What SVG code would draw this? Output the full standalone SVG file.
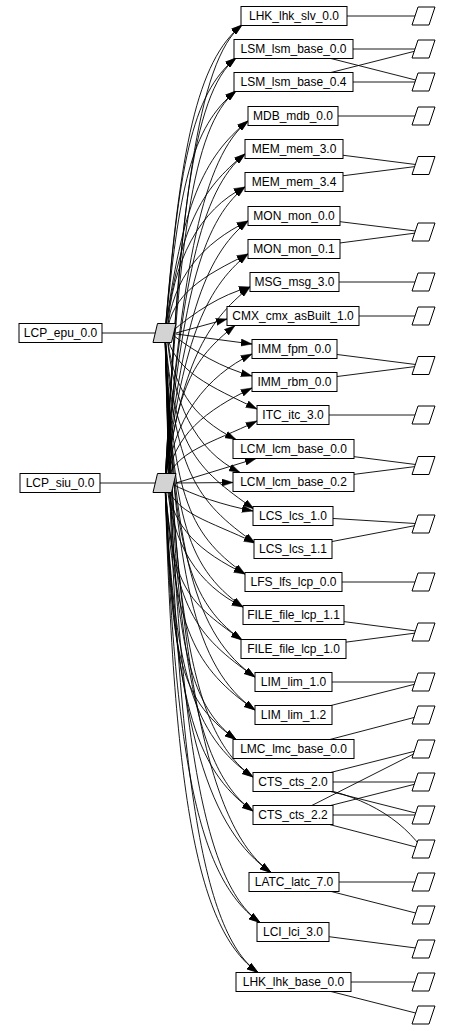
<svg xmlns="http://www.w3.org/2000/svg" xmlns:xlink="http://www.w3.org/1999/xlink" width="452" height="1031" viewBox="0 0 452 1031">
<style>
.b{fill:#fff;stroke:#000;stroke-width:1}
.p{fill:#fff;stroke:#000;stroke-width:1}
.g{fill:#d3d3d3;stroke:#000;stroke-width:1}
.e{fill:none;stroke:#000;stroke-width:0.9;marker-end:url(#ah)}
.l{fill:none;stroke:#000;stroke-width:0.9}
text{font-family:"Liberation Sans",Arial,Helvetica,sans-serif;font-size:12px;text-anchor:middle;fill:#000}
</style>
<defs>
<marker id="ah" markerUnits="userSpaceOnUse" markerWidth="11" markerHeight="8" viewBox="0 0 11 8" refX="11" refY="4" orient="auto"><path d="M0,0.5 L11,4 L0,7.5 z" fill="#000" stroke="#000" stroke-width="0.5"/></marker>
<polygon id="pp" points="-5.5,-9 11.5,-9 5.5,9 -11.5,9"/>
<polygon id="gp" points="-7,-9.5 11.5,-9.5 7,9.5 -11.5,9.5"/>
</defs>
<g id="connectors">
<path class="l" d="M102,333 L165,333"/>
<path class="l" d="M100,483 L165,483"/>
<path class="e" d="M165,333 C180,148 197,61 242,25"/>
<path class="e" d="M165,333 C179,168 191,94 236,58"/>
<path class="e" d="M165,333 C179,188 191,127 236,91"/>
<path class="e" d="M165,333 C182,206 203,157 248,121"/>
<path class="e" d="M165,333 C181,226 200,190 245,154"/>
<path class="e" d="M167,333 C172,260 200,209 245,187"/>
<path class="e" d="M167,333 C172,277 203,243 248,221"/>
<path class="e" d="M167,333 C172,294 203,276 248,254"/>
<path class="e" d="M170,333 C195,312 220,295 250,287"/>
<path class="e" d="M176,333 L227,319"/>
<path class="e" d="M176,334 L252,344"/>
<path class="e" d="M170,333 C195,352 222,368 252,376"/>
<path class="e" d="M167,333 C172,371 212,387 257,409"/>
<path class="e" d="M167,333 C172,386 191,417 236,439.5"/>
<path class="e" d="M167,333 C172,403 195,450 240,472.5"/>
<path class="e" d="M165,333 C174,447 194,467 254,509"/>
<path class="e" d="M165,333 C174,470 195,501 255,543"/>
<path class="e" d="M165,333 C173,490 185,532 245,574"/>
<path class="e" d="M165,333 C173,511 183,565 243,607"/>
<path class="e" d="M165,333 C173,533 182,598 242,640"/>
<path class="e" d="M165,333 C174,557 195,635 255,677"/>
<path class="e" d="M165,333 C174,578 195,668 255,710"/>
<path class="e" d="M165,333 C172,597 176,697 236,739.5"/>
<path class="e" d="M165,333 C174,622 193,735 253,777"/>
<path class="e" d="M165,333 C174,644 193,769 253,811"/>
<path class="e" d="M165,333 C176,684 211,830 271,872.5"/>
<path class="e" d="M165,333 C175,716 200,880 260,922.5"/>
<path class="e" d="M165,333 C174,749 198,930 258,972.5"/>
<path class="e" d="M165,483 C180,208 197,61 242,25"/>
<path class="e" d="M165,483 C179,228 191,94 236,58"/>
<path class="e" d="M165,483 C179,248 191,127 236,91"/>
<path class="e" d="M165,483 C182,266 203,157 248,121"/>
<path class="e" d="M165,483 C181,286 200,190 245,154"/>
<path class="e" d="M165,483 C181,305 200,223 245,187"/>
<path class="e" d="M165,483 C182,326 203,257 248,221"/>
<path class="e" d="M165,483 C182,346 203,290 248,254"/>
<path class="e" d="M165,483 C182,365 205,323 250,287"/>
<path class="e" d="M165,483 C179,388 190,361 235,325.5"/>
<path class="e" d="M167,483 C172,418 207,376 252,354"/>
<path class="e" d="M167,483 C172,435 207,410 252,388"/>
<path class="e" d="M167,483 C172,452 212,443 257,421"/>
<path class="e" d="M176,483 L256,458.5"/>
<path class="e" d="M176,483 L233,482.5"/>
<path class="e" d="M170,483 C195,496 223,505 253,511"/>
<path class="e" d="M167,483 C172,513 210,521 255,543"/>
<path class="e" d="M167,483 C172,528 200,552 245,574"/>
<path class="e" d="M167,483 C172,545 198,585 243,607"/>
<path class="e" d="M165,483 C173,585 182,598 242,640"/>
<path class="e" d="M165,483 C174,609 195,635 255,677"/>
<path class="e" d="M165,483 C174,631 195,668 255,710"/>
<path class="e" d="M165,483 C172,650 176,697 236,739.5"/>
<path class="e" d="M165,483 C174,674 193,735 253,777"/>
<path class="e" d="M165,483 C174,696 193,769 253,811"/>
<path class="e" d="M165,483 C176,736 211,830 271,872.5"/>
<path class="e" d="M165,483 C175,769 200,880 260,922.5"/>
<path class="e" d="M165,483 C174,801 198,930 258,972.5"/>
<path class="l" d="M294,16 L423.5,16"/>
<path class="l" d="M293.5,49 L423.5,49 M293.5,49 L423.5,82"/>
<path class="l" d="M293.5,82 L423.5,49 M293.5,82 L423.5,82"/>
<path class="l" d="M293,116 L423.5,116"/>
<path class="l" d="M294,149 L423.5,165.5 M294,182 L423.5,165.5"/>
<path class="l" d="M294,216 L423.5,232 M294,249 L423.5,232"/>
<path class="l" d="M294,282 L423.5,282"/>
<path class="l" d="M293,316 L423.5,316"/>
<path class="l" d="M294,349 L423.5,365.5 M294,382 L423.5,365.5"/>
<path class="l" d="M293,415 L423.5,415"/>
<path class="l" d="M294,449 L423.5,465.5 M294,482 L423.5,465.5"/>
<path class="l" d="M293,516 L423.5,524 M293,549 L423.5,524"/>
<path class="l" d="M293.5,582 L423.5,582"/>
<path class="l" d="M293.5,615 L423.5,632 M293.5,649 L423.5,632"/>
<path class="l" d="M293.5,682 L423.5,682"/>
<path class="l" d="M293.5,715 L423.5,682"/>
<path class="l" d="M293.5,749 L423.5,715"/>
<path class="l" d="M293,782 L423.5,749 M293,782 L423.5,782 M293,782 L423.5,815"/>
<path class="l" d="M293,784 C350,790 395,812 421,847"/>
<path class="l" d="M293,815 L423.5,749 M293,815 L423.5,782 M293,815 L423.5,815 M293,815 L423.5,849"/>
<path class="l" d="M294,882 L423.5,882 M294,882 L423.5,915"/>
<path class="l" d="M293,932 L423.5,949"/>
<path class="l" d="M293.5,982 L423.5,982 M293.5,982 L423.5,1015"/>
</g>
<g id="LCP_epu_0.0"><rect class="b" x="19" y="323.5" width="83" height="19"/><text x="60.5" y="337">LCP_epu_0.0</text></g>
<g id="LCP_siu_0.0"><rect class="b" x="20" y="473.5" width="80" height="19"/><text x="60" y="487">LCP_siu_0.0</text></g>
<g id="epu_pkg"><use xlink:href="#gp" class="g" x="164.5" y="333"/></g>
<g id="siu_pkg"><use xlink:href="#gp" class="g" x="164.5" y="483"/></g>
<g id="LHK_lhk_slv_0.0"><rect class="b" x="241" y="6.5" width="106" height="19"/><text x="294" y="20">LHK_lhk_slv_0.0</text></g>
<g id="LSM_lsm_base_0.0"><rect class="b" x="234" y="39.5" width="119" height="19"/><text x="293.5" y="53">LSM_lsm_base_0.0</text></g>
<g id="LSM_lsm_base_0.4"><rect class="b" x="234" y="72.5" width="119" height="19"/><text x="293.5" y="86">LSM_lsm_base_0.4</text></g>
<g id="MDB_mdb_0.0"><rect class="b" x="248" y="106.5" width="90" height="19"/><text x="293" y="120">MDB_mdb_0.0</text></g>
<g id="MEM_mem_3.0"><rect class="b" x="245" y="139.5" width="98" height="19"/><text x="294" y="153">MEM_mem_3.0</text></g>
<g id="MEM_mem_3.4"><rect class="b" x="245" y="172.5" width="98" height="19"/><text x="294" y="186">MEM_mem_3.4</text></g>
<g id="MON_mon_0.0"><rect class="b" x="248" y="206.5" width="92" height="19"/><text x="294" y="220">MON_mon_0.0</text></g>
<g id="MON_mon_0.1"><rect class="b" x="248" y="239.5" width="92" height="19"/><text x="294" y="253">MON_mon_0.1</text></g>
<g id="MSG_msg_3.0"><rect class="b" x="250" y="272.5" width="89" height="19"/><text x="294.5" y="286">MSG_msg_3.0</text></g>
<g id="CMX_cmx_asBuilt_1.0"><rect class="b" x="227" y="306.5" width="132" height="19"/><text x="293" y="320">CMX_cmx_asBuilt_1.0</text></g>
<g id="IMM_fpm_0.0"><rect class="b" x="252" y="339.5" width="85" height="19"/><text x="294.5" y="353">IMM_fpm_0.0</text></g>
<g id="IMM_rbm_0.0"><rect class="b" x="252" y="372.5" width="85" height="19"/><text x="294.5" y="386">IMM_rbm_0.0</text></g>
<g id="ITC_itc_3.0"><rect class="b" x="257" y="405.5" width="72" height="19"/><text x="293" y="419">ITC_itc_3.0</text></g>
<g id="LCM_lcm_base_0.0"><rect class="b" x="233" y="439.5" width="121" height="19"/><text x="293.5" y="453">LCM_lcm_base_0.0</text></g>
<g id="LCM_lcm_base_0.2"><rect class="b" x="233" y="472.5" width="121" height="19"/><text x="293.5" y="486">LCM_lcm_base_0.2</text></g>
<g id="LCS_lcs_1.0"><rect class="b" x="253" y="506.5" width="80" height="19"/><text x="293" y="520">LCS_lcs_1.0</text></g>
<g id="LCS_lcs_1.1"><rect class="b" x="254" y="539.5" width="78" height="19"/><text x="293" y="553">LCS_lcs_1.1</text></g>
<g id="LFS_lfs_lcp_0.0"><rect class="b" x="245" y="572.5" width="97" height="19"/><text x="293.5" y="586">LFS_lfs_lcp_0.0</text></g>
<g id="FILE_file_lcp_1.1"><rect class="b" x="243" y="605.5" width="101" height="19"/><text x="293.5" y="619">FILE_file_lcp_1.1</text></g>
<g id="FILE_file_lcp_1.0"><rect class="b" x="241" y="639.5" width="105" height="19"/><text x="293.5" y="653">FILE_file_lcp_1.0</text></g>
<g id="LIM_lim_1.0"><rect class="b" x="255" y="672.5" width="77" height="19"/><text x="293.5" y="686">LIM_lim_1.0</text></g>
<g id="LIM_lim_1.2"><rect class="b" x="255" y="705.5" width="77" height="19"/><text x="293.5" y="719">LIM_lim_1.2</text></g>
<g id="LMC_lmc_base_0.0"><rect class="b" x="233" y="739.5" width="121" height="19"/><text x="293.5" y="753">LMC_lmc_base_0.0</text></g>
<g id="CTS_cts_2.0"><rect class="b" x="253" y="772.5" width="80" height="19"/><text x="293" y="786">CTS_cts_2.0</text></g>
<g id="CTS_cts_2.2"><rect class="b" x="253" y="805.5" width="80" height="19"/><text x="293" y="819">CTS_cts_2.2</text></g>
<g id="LATC_latc_7.0"><rect class="b" x="249" y="872.5" width="90" height="19"/><text x="294" y="886">LATC_latc_7.0</text></g>
<g id="LCI_lci_3.0"><rect class="b" x="257" y="922.5" width="72" height="19"/><text x="293" y="936">LCI_lci_3.0</text></g>
<g id="LHK_lhk_base_0.0"><rect class="b" x="236" y="972.5" width="115" height="19"/><text x="293.5" y="986">LHK_lhk_base_0.0</text></g>
<g id="pkg_r01"><use xlink:href="#pp" class="p" x="423.5" y="16"/></g>
<g id="pkg_r02"><use xlink:href="#pp" class="p" x="423.5" y="49"/></g>
<g id="pkg_r03"><use xlink:href="#pp" class="p" x="423.5" y="82"/></g>
<g id="pkg_r04"><use xlink:href="#pp" class="p" x="423.5" y="116"/></g>
<g id="pkg_r05"><use xlink:href="#pp" class="p" x="423.5" y="165.5"/></g>
<g id="pkg_r06"><use xlink:href="#pp" class="p" x="423.5" y="232"/></g>
<g id="pkg_r07"><use xlink:href="#pp" class="p" x="423.5" y="282"/></g>
<g id="pkg_r08"><use xlink:href="#pp" class="p" x="423.5" y="316"/></g>
<g id="pkg_r09"><use xlink:href="#pp" class="p" x="423.5" y="365.5"/></g>
<g id="pkg_r10"><use xlink:href="#pp" class="p" x="423.5" y="415"/></g>
<g id="pkg_r11"><use xlink:href="#pp" class="p" x="423.5" y="465.5"/></g>
<g id="pkg_r12"><use xlink:href="#pp" class="p" x="423.5" y="524"/></g>
<g id="pkg_r13"><use xlink:href="#pp" class="p" x="423.5" y="582"/></g>
<g id="pkg_r14"><use xlink:href="#pp" class="p" x="423.5" y="632"/></g>
<g id="pkg_r15"><use xlink:href="#pp" class="p" x="423.5" y="682"/></g>
<g id="pkg_r16"><use xlink:href="#pp" class="p" x="423.5" y="715"/></g>
<g id="pkg_r17"><use xlink:href="#pp" class="p" x="423.5" y="749"/></g>
<g id="pkg_r18"><use xlink:href="#pp" class="p" x="423.5" y="782"/></g>
<g id="pkg_r19"><use xlink:href="#pp" class="p" x="423.5" y="815"/></g>
<g id="pkg_r20"><use xlink:href="#pp" class="p" x="423.5" y="849"/></g>
<g id="pkg_r21"><use xlink:href="#pp" class="p" x="423.5" y="882"/></g>
<g id="pkg_r22"><use xlink:href="#pp" class="p" x="423.5" y="915"/></g>
<g id="pkg_r23"><use xlink:href="#pp" class="p" x="423.5" y="949"/></g>
<g id="pkg_r24"><use xlink:href="#pp" class="p" x="423.5" y="982"/></g>
<g id="pkg_r25"><use xlink:href="#pp" class="p" x="423.5" y="1015"/></g>
</svg>
